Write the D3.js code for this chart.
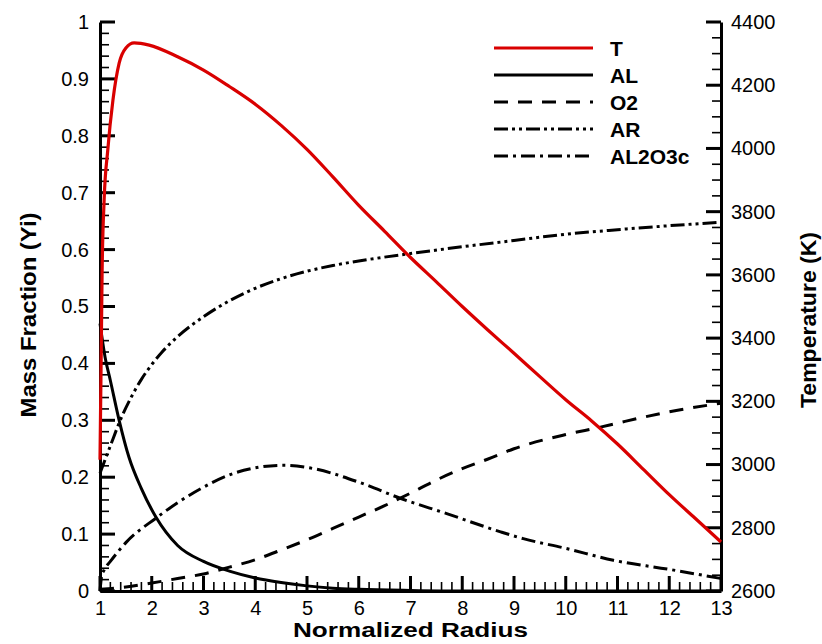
<!DOCTYPE html>
<html>
<head>
<meta charset="utf-8">
<script src="https://cdn.jsdelivr.net/npm/d3@7"></script>
<style>
  body { margin: 0; background: #fff; }
  svg text { font-family: "Liberation Sans", Arial, Helvetica, sans-serif; fill: #000; }
</style>
</head>
<body>
<svg id="chart" width="822" height="644"></svg>
<script>
// radius points and values
const tRadius = [1.0, 1.02, 1.04, 1.08, 1.15, 1.25, 1.37, 1.5, 1.66, 1.95, 2.5, 3.0, 3.5, 4.0, 4.5, 5.0, 5.5, 6.0, 6.5, 7.0, 7.5, 8.0, 8.5, 9.0, 9.5, 10.0, 10.5, 11.0, 11.5, 12.0, 12.5, 13.0];
const tempK   = [3015, 3300, 3600, 3837, 3995, 4153, 4270, 4318, 4334, 4327, 4290, 4248, 4196, 4140, 4073, 3997, 3910, 3820, 3738, 3655, 3578, 3500, 3425, 3352, 3278, 3205, 3138, 3065, 2985, 2905, 2830, 2755];

const alRadius = [1.0, 1.1, 1.2, 1.37, 1.56, 1.8, 2.08, 2.5, 3.0, 3.5, 4.0, 4.5, 5.0, 5.5, 6.0, 7.0, 8.0, 13.0];
const alY      = [0.47, 0.41, 0.37, 0.30, 0.235, 0.18, 0.13, 0.08, 0.052, 0.035, 0.023, 0.015, 0.009, 0.005, 0.003, 0.001, 0.0, 0.0];

const o2Radius = [1.0, 1.5, 2.0, 2.5, 3.0, 3.5, 4.0, 4.5, 5.0, 5.5, 6.0, 6.5, 7.0, 7.5, 8.0, 8.5, 9.0, 10.0, 10.67, 11.0, 12.0, 13.0];
const o2Y      = [0.003, 0.007, 0.014, 0.022, 0.03, 0.042, 0.055, 0.072, 0.09, 0.11, 0.13, 0.15, 0.172, 0.195, 0.215, 0.232, 0.25, 0.275, 0.288, 0.295, 0.315, 0.33];

const arRadius = [1.0, 1.2, 1.4, 1.6, 1.8, 2.0, 2.2, 2.5, 3.0, 3.5, 4.0, 4.5, 5.0, 5.5, 6.0, 7.0, 8.0, 9.0, 10.0, 11.0, 12.0, 13.0];
const arY      = [0.207, 0.255, 0.302, 0.34, 0.372, 0.398, 0.42, 0.447, 0.482, 0.51, 0.532, 0.549, 0.562, 0.572, 0.58, 0.593, 0.605, 0.616, 0.627, 0.635, 0.642, 0.648];

const al2o3Radius = [1.0, 1.03, 1.08, 1.2, 1.5, 2.08, 2.95, 3.59, 4.55, 5.07, 6.04, 6.8, 7.7, 8.74, 9.18, 10.0, 10.92, 12.0, 13.0];
const al2o3Y      = [0.0, 0.025, 0.037, 0.052, 0.085, 0.128, 0.18, 0.207, 0.221, 0.216, 0.19, 0.163, 0.136, 0.104, 0.092, 0.075, 0.054, 0.038, 0.022];

const xTicks = [1,2,3,4,5,6,7,8,9,10,11,12,13];
const yTicks = [0, 0.1, 0.2, 0.3, 0.4, 0.5, 0.6, 0.7, 0.8, 0.9, 1];
const tTicks = [2600, 2800, 3000, 3200, 3400, 3600, 3800, 4000, 4200, 4400];

const seriesNames = ["T", "AL", "O2", "AR", "AL2O3c"];

const margin = {top: 22, right: 101, bottom: 53, left: 100},
      width = 822 - margin.left - margin.right,
      height = 644 - margin.top - margin.bottom;

const svg = d3.select("#chart")
    .append("g")
    .attr("transform", "translate(" + margin.left + "," + margin.top + ")");

const xScale = d3.scaleLinear().domain([1, 13]).range([0, width]);
const yScale = d3.scaleLinear().domain([0, 1]).range([height, 0]);
const tScale = d3.scaleLinear().domain([2600, 4400]).range([height, 0]);

// minor tick positions (between the labelled ones)
const xMinor = d3.range(1, 13.001, 0.2).filter(v => Math.abs(v - Math.round(v)) > 1e-6);
const yMinor = d3.range(0, 1.0001, 0.02).filter(v => Math.abs(v * 10 - Math.round(v * 10)) > 1e-6);
const tMinor = d3.range(2600, 4401, 50).filter(v => v % 200 !== 0);

// axes: labels + spine only, ticks drawn below
function styleAxis(g) {
    g.select(".domain").attr("stroke-width", 3).attr("stroke", "#000");
    g.selectAll(".tick line").remove();
    g.selectAll(".tick text")
        .style("font-size", "20px")
        .style("font-family", '"Liberation Sans", Arial, sans-serif');
}

svg.append("g")
    .attr("class", "x-axis")
    .attr("transform", "translate(0," + height + ")")
    .call(d3.axisBottom(xScale).tickValues(xTicks).tickSize(0).tickPadding(10).tickFormat(d3.format("d")))
    .call(styleAxis);

svg.append("g")
    .attr("class", "y-axis")
    .call(d3.axisLeft(yScale).tickValues(yTicks).tickSize(0).tickPadding(11).tickFormat(d3.format("~g")))
    .call(styleAxis);

svg.append("g")
    .attr("class", "t-axis")
    .attr("transform", "translate(" + width + ",0)")
    .call(d3.axisRight(tScale).tickValues(tTicks).tickSize(0).tickPadding(10).tickFormat(d3.format("d")))
    .call(styleAxis);

// inward tick marks
const tickColor = "#000";
function vTicks(vals, len, sw) {
    svg.selectAll(null).data(vals).enter().append("rect")
        .attr("class", "tick-mark")
        .attr("x", d => xScale(d) - sw / 2)
        .attr("y", height - len)
        .attr("width", sw)
        .attr("height", len)
        .attr("fill", tickColor);
}
function hTicks(scale, vals, x0, dir, len, sw) {
    svg.selectAll(null).data(vals).enter().append("rect")
        .attr("class", "tick-mark")
        .attr("x", dir > 0 ? x0 : x0 - len)
        .attr("y", d => scale(d) - sw / 2)
        .attr("width", len)
        .attr("height", sw)
        .attr("fill", tickColor);
}
vTicks(xMinor, 9, 1.6);
vTicks(xTicks, 15, 3);
hTicks(yScale, yMinor, 0, 1, 9, 1.6);
hTicks(yScale, yTicks, 0, 1, 15, 3);
hTicks(tScale, tMinor, width, -1, 9, 1.6);
hTicks(tScale, tTicks, width, -1, 15, 3);

// axis titles
svg.append("text")
    .attr("x", width / 2)
    .attr("y", 637 - margin.top)
    .attr("text-anchor", "middle")
    .attr("textLength", 235)
    .attr("lengthAdjust", "spacingAndGlyphs")
    .style("font-size", "20px")
    .style("font-weight", "bold")
    .text("Normalized Radius");

svg.append("text")
    .attr("transform", "translate(" + (36 - margin.left) + "," + (315 - margin.top) + ") rotate(-90)")
    .attr("text-anchor", "middle")
    .attr("textLength", 205)
    .attr("lengthAdjust", "spacingAndGlyphs")
    .style("font-size", "22px")
    .style("font-weight", "bold")
    .text("Mass Fraction (Yi)");

svg.append("text")
    .attr("transform", "translate(" + (816 - margin.left) + "," + (320 - margin.top) + ") rotate(-90)")
    .attr("text-anchor", "middle")
    .attr("textLength", 176)
    .attr("lengthAdjust", "spacingAndGlyphs")
    .style("font-size", "22px")
    .style("font-weight", "bold")
    .text("Temperature (K)");

// lines
const dashes = {
    "T": null,
    "AL": null,
    "O2": "14,10",
    "AR": "14,4,3,4,3,4",
    "AL2O3c": "14,5,3,5"
};
const colors = {"T": "#d90000", "AL": "#000", "O2": "#000", "AR": "#000", "AL2O3c": "#000"};

const lineY = d3.line()
    .x(d => xScale(d[0]))
    .y(d => yScale(d[1]))
    .curve(d3.curveMonotoneX);

const lineT = d3.line()
    .x(d => xScale(d[0]))
    .y(d => tScale(d[1]))
    .curve(d3.curveMonotoneX);

const speciesData = [
    {name: "AL", pts: d3.zip(alRadius, alY)},
    {name: "O2", pts: d3.zip(o2Radius, o2Y)},
    {name: "AR", pts: d3.zip(arRadius, arY)},
    {name: "AL2O3c", pts: d3.zip(al2o3Radius, al2o3Y)}
];

svg.selectAll(".species")
    .data(speciesData)
    .enter().append("path")
    .attr("class", "species")
    .attr("fill", "none")
    .attr("stroke", d => colors[d.name])
    .attr("stroke-width", 3)
    .attr("stroke-dasharray", d => dashes[d.name])
    .attr("d", d => lineY(d.pts));

svg.append("path")
    .attr("class", "temp")
    .attr("fill", "none")
    .attr("stroke", colors["T"])
    .attr("stroke-width", 3.2)
    .attr("d", lineT(d3.zip(tRadius, tempK)));

// legend
const legend = svg.append("g")
    .attr("class", "legend")
    .attr("transform", "translate(394,26)");

const rows = legend.selectAll(".row")
    .data(seriesNames)
    .enter().append("g")
    .attr("class", "row")
    .attr("transform", (d, i) => "translate(0," + (i * 27) + ")");

rows.append("line")
    .attr("x1", 0)
    .attr("x2", 99)
    .attr("y1", 0)
    .attr("y2", 0)
    .attr("stroke", d => colors[d])
    .attr("stroke-width", 3)
    .attr("stroke-dasharray", d => dashes[d]);

rows.append("text")
    .attr("x", 116)
    .attr("y", 0)
    .attr("dy", "0.36em")
    .style("font-size", "21px")
    .style("font-weight", "bold")
    .text(d => d);
</script>
</body>
</html>
